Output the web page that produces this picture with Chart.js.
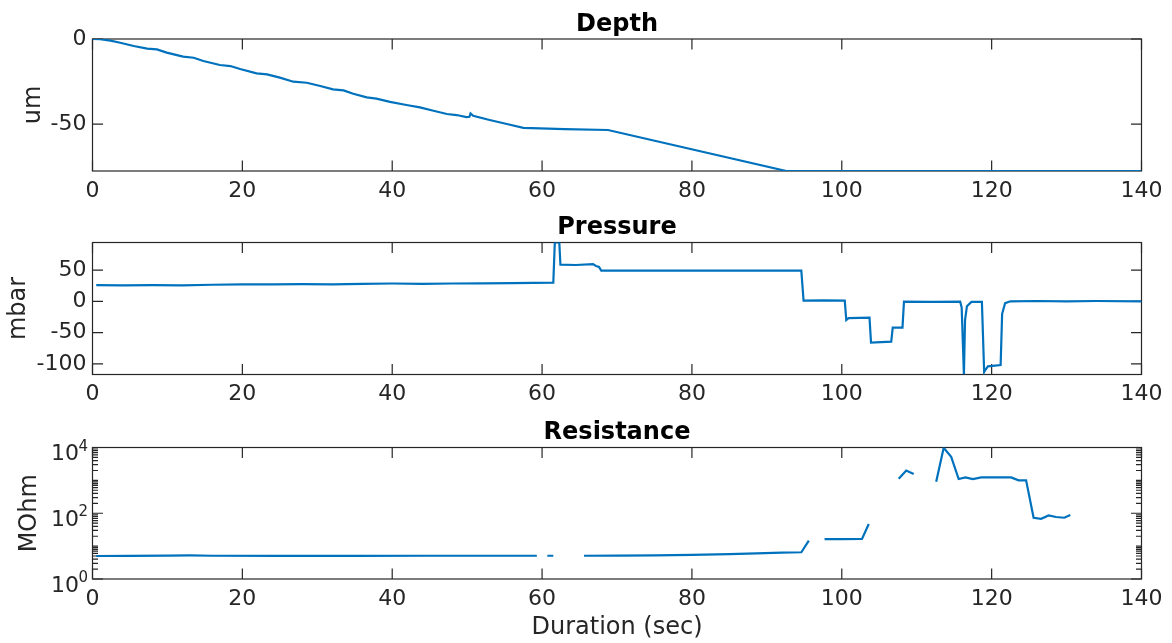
<!DOCTYPE html>
<html>
<head>
<meta charset="utf-8">
<script src="https://cdn.jsdelivr.net/npm/chart.js@4.4.1/dist/chart.umd.min.js"></script>
<style>
    body { margin: 0; background: #ffffff; }
    canvas { position: absolute; left: 0; top: 0; }
</style>
</head>
<body>
<canvas id="depthChart" width="1172" height="643"></canvas>
<canvas id="pressureChart" width="1172" height="643"></canvas>
<canvas id="resistanceChart" width="1172" height="643"></canvas>
<script>
// shared time axis
var xTicks = [0, 20, 40, 60, 80, 100, 120, 140];

// depth (um) vs time (sec)
var depthTime = [0, 1, 2.4, 3.7, 5.5, 7.3, 8.6, 9.9, 12.1, 13.5, 14.8, 17.0, 18.4, 19.7, 21.9, 23.3,
    25.0, 26.8, 28.6, 30.4, 32.1, 33.5, 34.8, 36.6, 37.9, 39.7, 41.9, 43.7, 45.5, 47.3, 48.6, 49.9,
    50.3, 50.45, 50.8, 53.0, 55.3, 57.5, 63.0, 68.8, 92.6, 140];
var depthValue = [0, -0.1, -1.0, -2.2, -4.1, -5.7, -6.1, -8.0, -10.4, -11.0, -12.9, -15.3, -15.9, -17.6, -20.2, -20.8,
    -22.7, -25.1, -25.7, -27.6, -29.6, -30.2, -32.2, -34.3, -35.1, -37.0, -38.8, -40.2, -42.2, -44.1, -44.7, -45.9,
    -45.7, -43.7, -45.1, -47.6, -50.0, -52.2, -53.0, -53.5, -77.6, -77.6];
var depthTicks = [-50, 0];

// pressure (mbar) vs time (sec)
var pressureTime = [0.5, 4, 8, 12, 16, 20, 24, 28, 32, 36, 40, 44, 48, 52, 56, 61.5, 61.7, 62.3, 62.45,
    64.5, 66.8, 67.2, 67.6, 67.9, 75, 85, 94.6, 94.9, 97.5, 100.4, 100.6, 100.9, 103.7, 103.9, 106.6,
    106.8, 108.1, 108.3, 112, 115.8, 116.0, 116.3, 116.45, 116.7, 117.3, 118.7, 119.0, 119.2, 119.5,
    121.2, 121.4, 121.8, 122.5, 126, 130, 134, 140];
var pressureValue = [26, 25.5, 26, 25.5, 26.5, 27, 27, 27.5, 27, 28, 28.5, 28, 28.5, 28.8, 29, 29.8, 94, 94, 58.5,
    58, 59.5, 56.5, 55, 49, 49, 49, 49, 1, 1.5, 1, -30, -27, -26, -66, -64.5,
    -42, -42, -0.5, -0.8, -0.5, -10, -117, -30, -8, -1, -1, -113, -109, -104,
    -102, -20, -3, 0, 0.5, 0, 0.5, 0];
var pressureTicks = [-100, -50, 0, 50];

// resistance (MOhm) vs time (sec), null = no reading
var resistanceTime = [0.5, 5, 10, 13, 16, 25, 35, 45, 55, 59.3, 59.9, 60.7, 61.5, 62, 65.6, 70, 75, 80, 85,
    88.6, 92, 94.6, 95.6, 96.6, 97.7, 100, 102.7, 103.6, 105, 107.6, 108.6, 109.6, 111, 112.6, 113.6,
    114.6, 115.6, 116.5, 117.5, 118.6, 122.6, 123.6, 124.6, 125.6, 126.6, 127.6, 128.6, 129.7, 130.5];
var resistanceValue = [5.0, 5.05, 5.15, 5.2, 5.1, 5.05, 5.05, 5.1, 5.1, 5.1, null, 5.1, 5.1, null, 5.1, 5.15, 5.25, 5.4, 5.7,
    6.0, 6.3, 6.5, 14.6, null, 16.4, 16.4, 16.5, 47, null, 1120, 2000, 1560, null, 910, 9800,
    5200, 1100, 1230, 1100, 1230, 1230, 1000, 1000, 73, 68, 86, 77, 73, 88];
var resistanceTicks = [1, 100, 10000];
var resistanceExponents = ['0', '2', '4'];

var lineColor = '#0072BD';
var axisColor = '#262626';
var plotLeft = 92.5;
var plotRight = 1141.5;

Chart.defaults.font.family = "'DejaVu Sans', sans-serif";
Chart.defaults.color = axisColor;

function toPoints(xs, ys) {
    return xs.map(function(x, i) { return { x: x, y: ys[i] }; });
}

// box around the plot area plus inward tick marks on all four sides
var axesBox = {
    id: 'axesBox',
    beforeDatasetsDraw: function(chart, args, opts) {
        var ctx = chart.ctx;
        var area = chart.chartArea;
        var xs = chart.scales.x;
        var ys = chart.scales.y;
        ctx.save();
        ctx.strokeStyle = axisColor;
        ctx.lineWidth = 1.2;
        ctx.beginPath();
        xs.ticks.forEach(function(t) {
            var px = xs.getPixelForValue(t.value);
            ctx.moveTo(px, area.bottom);
            ctx.lineTo(px, area.bottom - 10.5);
            ctx.moveTo(px, area.top);
            ctx.lineTo(px, area.top + 10.5);
        });
        ys.ticks.forEach(function(t) {
            var py = ys.getPixelForValue(t.value);
            ctx.moveTo(area.left, py);
            ctx.lineTo(area.left + 10.5, py);
            ctx.moveTo(area.right, py);
            ctx.lineTo(area.right - 10.5, py);
        });
        (opts.minor || []).forEach(function(v) {
            var py = ys.getPixelForValue(v);
            ctx.moveTo(area.left, py);
            ctx.lineTo(area.left + 5.5, py);
            ctx.moveTo(area.right, py);
            ctx.lineTo(area.right - 5.5, py);
        });
        ctx.stroke();
        ctx.strokeRect(area.left, area.top, area.right - area.left, area.bottom - area.top);
        ctx.restore();
    },
    afterDraw: function(chart, args, opts) {
        var ctx = chart.ctx;
        var area = chart.chartArea;
        ctx.save();
        if (opts.text) {
            ctx.fillStyle = '#000000';
            ctx.font = "bold 24px 'DejaVu Sans', sans-serif";
            ctx.textAlign = 'center';
            ctx.textBaseline = 'alphabetic';
            ctx.fillText(opts.text, (area.left + area.right) / 2, area.top - 8.5);
        }
        // power-of-ten labels: base 10 with a raised exponent
        if (opts.exponents) {
            var ys = chart.scales.y;
            var right = area.left - 4.5;
            ctx.fillStyle = axisColor;
            ctx.textAlign = 'right';
            ctx.textBaseline = 'alphabetic';
            ys.ticks.forEach(function(t, i) {
                var py = ys.getPixelForValue(t.value);
                var exp = opts.exponents[i];
                ctx.font = "15px 'DejaVu Sans', sans-serif";
                var ew = ctx.measureText(exp).width;
                ctx.fillText(exp, right, py + 3.2);
                ctx.font = "22px 'DejaVu Sans', sans-serif";
                ctx.fillText('10', right - ew + 0.5, py + 12.5);
            });
        }
        ctx.restore();
    }
};

function makePanel(id, cfg) {
    var yScale = {
        type: cfg.logY ? 'logarithmic' : 'linear',
        min: cfg.yMin,
        max: cfg.yMax,
        afterBuildTicks: function(s) {
            s.ticks = cfg.yTicks.map(function(v) { return { value: v }; });
        },
        afterFit: function(s) { s.width = plotLeft - cfg.padLeft; },
        ticks: {
            display: !cfg.exponents,
            font: { size: 22 },
            padding: 6,
            callback: function(v) { return String(v); }
        },
        grid: { display: false, drawTicks: false },
        border: { display: false },
        title: { display: true, text: cfg.yTitle, font: { size: 24 }, padding: 0 }
    };

    var xScale = {
        type: 'linear',
        min: 0,
        max: 140,
        afterBuildTicks: function(s) {
            s.ticks = xTicks.map(function(v) { return { value: v }; });
        },
        afterFit: function(s) { s.height = cfg.xHeight; },
        ticks: {
            font: { size: 22 },
            padding: 7,
            maxRotation: 0,
            autoSkip: false,
            callback: function(v) { return String(v); }
        },
        grid: { display: false, drawTicks: false },
        border: { display: false },
        title: { display: !!cfg.xTitle, text: cfg.xTitle || '', font: { size: 24 }, padding: 0 }
    };

    return new Chart(document.getElementById(id), {
        type: 'line',
        data: {
            datasets: [{
                data: toPoints(cfg.time, cfg.values),
                borderColor: lineColor,
                borderWidth: 2.2,
                pointRadius: 0,
                tension: 0,
                spanGaps: false
            }]
        },
        options: {
            responsive: false,
            animation: false,
            layout: {
                padding: {
                    left: cfg.padLeft,
                    right: 1172 - plotRight,
                    top: cfg.top,
                    bottom: 643 - cfg.bottom - cfg.xHeight
                }
            },
            plugins: {
                legend: { display: false },
                tooltip: { enabled: false },
                axesBox: { text: cfg.title, minor: cfg.minor, exponents: cfg.exponents }
            },
            scales: { x: xScale, y: yScale }
        },
        plugins: [axesBox]
    });
}

var minorLogTicks = [];
[1, 10, 100, 1000].forEach(function(decade) {
    for (var k = 2; k <= 10; k++) {
        if (decade * k !== 100) minorLogTicks.push(decade * k);
    }
});

makePanel('depthChart', {
    title: 'Depth', yTitle: 'um',
    time: depthTime, values: depthValue,
    yMin: -77.6, yMax: 0, yTicks: depthTicks,
    padLeft: 19.3, top: 39, bottom: 171, xHeight: 30
});

makePanel('pressureChart', {
    title: 'Pressure', yTitle: 'mbar',
    time: pressureTime, values: pressureValue,
    yMin: -117, yMax: 94, yTicks: pressureTicks,
    padLeft: 4, top: 242.5, bottom: 374.5, xHeight: 30
});

makePanel('resistanceChart', {
    title: 'Resistance', yTitle: 'MOhm', xTitle: 'Duration (sec)',
    time: resistanceTime, values: resistanceValue,
    logY: true, yMin: 1, yMax: 10000, yTicks: resistanceTicks, exponents: resistanceExponents,
    minor: minorLogTicks,
    padLeft: 15.6, top: 447.5, bottom: 579, xHeight: 62.8
});
</script>
</body>
</html>
